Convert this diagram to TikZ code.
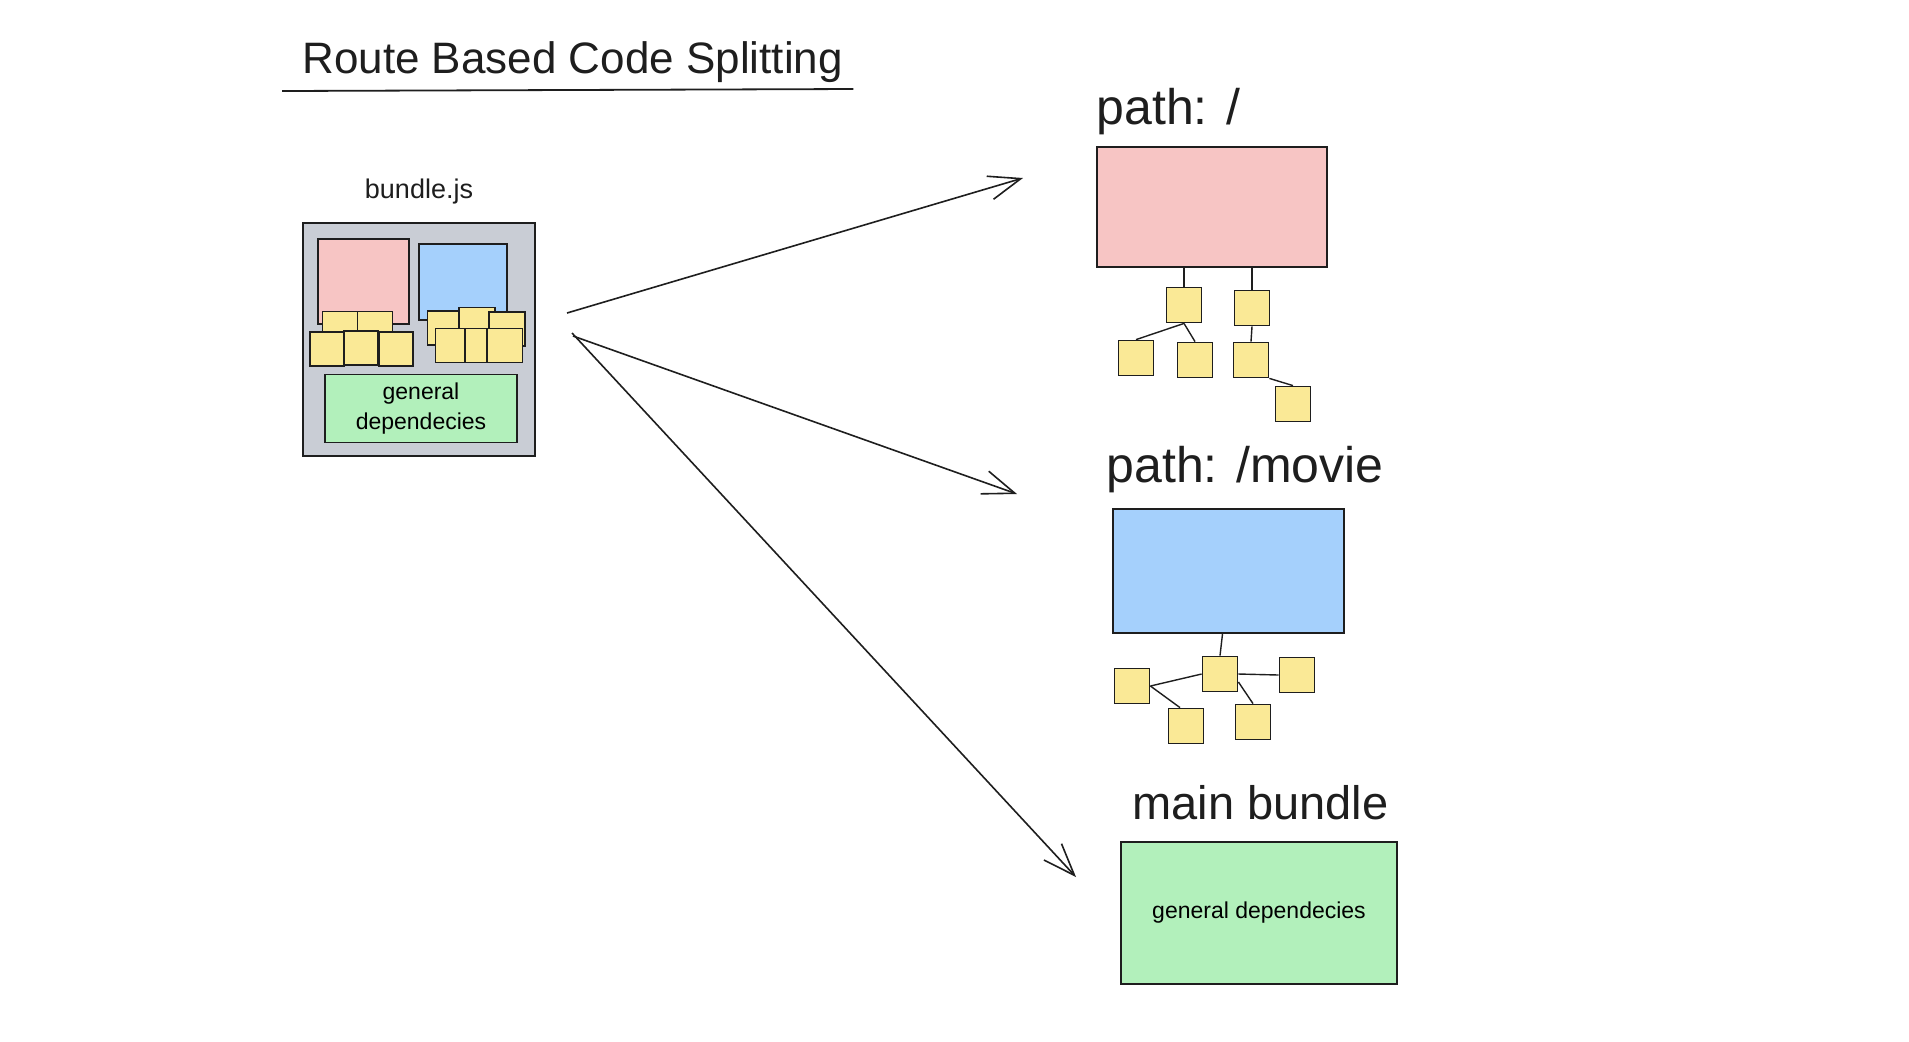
\documentclass[tikz,border=0pt]{standalone}
\usepackage{fontspec}
\setmainfont{Liberation Sans}
\usetikzlibrary{positioning,arrows.meta}
\definecolor{SketchPink}{HTML}{F7C5C4}
\definecolor{SketchBlue}{HTML}{A5D0FC}
\definecolor{SketchYellow}{HTML}{FAE996}
\definecolor{SketchGreen}{HTML}{B2F0BB}
\definecolor{SketchGray}{HTML}{C9CDD5}
\definecolor{SketchInk}{HTML}{1E1E1E}

\begin{document}
\begin{tikzpicture}[x=0.5pt,y=-0.5pt,
    box/.style={draw=SketchInk,line width=0.9pt,inner sep=0pt},
    chunk/.style={box,fill=SketchYellow,minimum width=17.5pt,minimum height=17.5pt},
    routelabel/.style={font=\fontsize{25}{30}\selectfont,text=SketchInk,inner sep=0pt},
    arrow/.style={-{Straight Barb[length=16pt,width=12pt]},line width=0.8pt,draw=SketchInk},
    link/.style={line width=0.7pt,draw=SketchInk}
  ]
    \fill[white] (0,0) rectangle (1909,1041);
    \useasboundingbox (0,0) rectangle (1909,1041);

    % title
    \node[font=\fontsize{22}{26}\selectfont,text=SketchInk,anchor=base west,inner sep=0pt] (title) at (302,73) {Route Based Code Splitting};
    \draw[line width=0.9pt,SketchInk] ([xshift=-10pt,yshift=-9pt]title.base west) -- ([xshift=5pt,yshift=-8pt]title.base east);

    % bundle.js
    \node[box,fill=SketchGray,minimum width=116pt,minimum height=116.5pt] (bundle) at (419,339.5) {};
    \node[font=\fontsize{13.5}{16}\selectfont,text=SketchInk,anchor=base,inner sep=0pt] (bundlename) at ([yshift=12pt]bundle.north) {bundle.js};
    \node[box,fill=SketchPink,minimum width=45.5pt,minimum height=42.5pt] (oldroot) at (363.5,281.5) {};
    \node[box,fill=SketchBlue,minimum width=44pt,minimum height=38pt] (oldmovie) at (463,282) {};
    \node[chunk] (k1) at (340,329) {};
    \node[chunk] (k2) at (375,329) {};
    \node[chunk,minimum size=17pt] (k3) at (327,349) {};
    \node[chunk,minimum size=17pt] (k4) at (361,348) {};
    \node[chunk,minimum size=17pt] (k5) at (396,349) {};
    \node[chunk,minimum width=15.5pt,minimum height=17pt] (k6) at (443,328) {};
    \node[chunk,minimum width=18pt] (k7) at (477,325) {};
    \node[chunk,minimum width=18pt,minimum height=17pt] (k8) at (507,329) {};
    \node[chunk,minimum width=14.5pt,minimum height=17pt] (k9) at (450,345.5) {};
    \node[chunk,minimum width=11pt,minimum height=17pt] (k10) at (476,345.5) {};
    \node[chunk,minimum width=17.5pt,minimum height=17pt] (k11) at (505,345.5) {};
    \node[box,fill=SketchGreen,minimum width=96pt,minimum height=34pt,align=center,
      font=\fontsize{11.5}{15}\selectfont] (oldshared) at (421,408.5) {general\\dependecies};

    % path: /
    \node[box,fill=SketchPink,minimum width=115pt,minimum height=60pt] (rootbox) at (1212,207) {};
    \node[routelabel,anchor=base west] (rootlabel) at ([yshift=11pt]rootbox.north west) {path: /};
    \node[chunk] (r1) at (1184,305) {};
    \node[chunk] (r2) at (1252,308) {};
    \node[chunk] (r3) at (1136,358) {};
    \node[chunk] (r4) at (1195,360) {};
    \node[chunk] (r5) at (1251,360) {};
    \node[chunk] (r6) at (1293,404) {};
    \draw[link] (r1.north |- rootbox.south) -- (r1.north);
    \draw[link] (r2.north |- rootbox.south) -- (r2.north);
    \draw[link] (r1.south) -- (r3.north);
    \draw[link] (r1.south) -- (r4.north);
    \draw[link] (r2.south) -- (r5.north);
    \draw[link] (r5.south east) -- (r6.north);

    % path: /movie
    \node[box,fill=SketchBlue,minimum width=115.5pt,minimum height=62pt] (moviebox) at (1228.5,571) {};
    \node[routelabel,anchor=base west] (movielabel) at ([xshift=-3pt,yshift=13pt]moviebox.north west) {path: /movie};
    \node[chunk] (m1) at (1220,674) {};
    \node[chunk] (m2) at (1132,686) {};
    \node[chunk] (m3) at (1297,675) {};
    \node[chunk] (m4) at (1186,726) {};
    \node[chunk] (m5) at (1253,722) {};
    \draw[link] ([xshift=-3pt]moviebox.south) -- (m1.north);
    \draw[link] (m1.west) -- (m2.east);
    \draw[link] (m2.east) -- ([xshift=-3pt]m4.north);
    \draw[link] (m1.east) -- (m3.west);
    \draw[link] ([yshift=-4pt]m1.east) -- (m5.north);

    % main bundle
    \node[box,fill=SketchGreen,minimum width=138pt,minimum height=71pt,
      font=\fontsize{11.5}{14}\selectfont] (mainbox) at (1259,913) {general dependecies};
    \node[routelabel,font=\fontsize{23.5}{28}\selectfont,anchor=base west] (mainlabel) at ([xshift=6pt,yshift=11pt]mainbox.north west) {main bundle};

    % split arrows
    \coordinate (out1) at (567,313);
    \coordinate (out2) at (573,336);
    \coordinate (out3) at (572,333);
    \coordinate (in1) at (1023,178);
    \coordinate (in2) at (1017,494);
    \coordinate (in3) at (1076,877);
    \draw[arrow] (out1) -- (in1);
    \draw[arrow] (out2) -- (in2);
    \draw[arrow] (out3) -- (in3);
  \end{tikzpicture}
\end{document}
